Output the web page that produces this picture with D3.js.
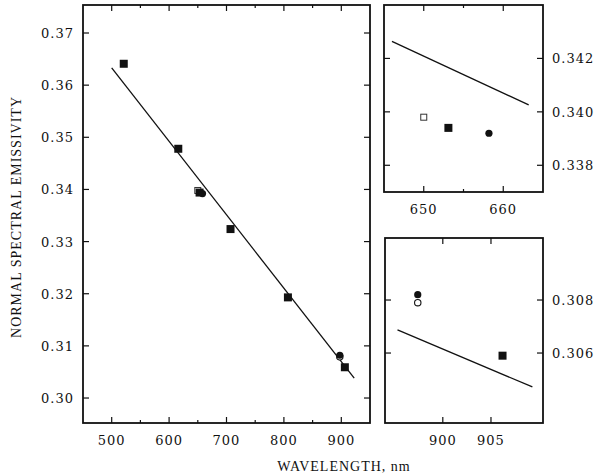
<!DOCTYPE html>
<html>
<head>
<meta charset="utf-8">
<script src="https://cdn.jsdelivr.net/npm/d3@7"></script>
<style>
    body { margin: 0; background: #fff; }
    svg { display: block; }
    .tick-label { font-family: 'DejaVu Serif', serif; font-size: 13px; letter-spacing: 1px; fill: #111; }
    .axis-title { font-family: 'Liberation Serif', serif; font-size: 14px; letter-spacing: 1px; fill: #111; }
</style>
</head>
<body>
<svg id="chart" width="596" height="476"></svg>
<script>
// values (wavelength nm, emissivity)
const filledSquares = [[521, 0.3641], [616, 0.3478], [653.1, 0.3394], [707, 0.3324], [807, 0.3193], [906.2, 0.3059]];
const filledCircles = [[658.2, 0.3392], [897.4, 0.3082]];
const openSquares = [[650, 0.3398]];
const openCircles = [[897.4, 0.3079]];

// fitted line as drawn in each panel
const fitMain = [[500, 0.3633], [922.5, 0.3038]];
const fitTop = [[646, 0.34264], [663.2, 0.34026]];
const fitBottom = [[895.3, 0.30687], [909.3, 0.30472]];

const mainXTicks = [500, 600, 700, 800, 900];
const mainXMinor = [550, 650, 750, 850];
const mainYTicks = [0.30, 0.31, 0.32, 0.33, 0.34, 0.35, 0.36, 0.37];
const topXTicks = [650, 660];
const topXMinor = [655];
const topYTicks = [0.338, 0.340, 0.342];
const botXTicks = [900, 905];
const botYTicks = [0.306, 0.308];

const svg = d3.select('#chart');

const panels = [
    {
        box: { left: 83, top: 5, right: 370, bottom: 423 },
        xDomain: [450, 950], yDomain: [0.29521, 0.37537],
        xTicks: mainXTicks, xMinor: mainXMinor, yTicks: mainYTicks,
        fit: fitMain, yLabelSide: 'left', yFormat: d3.format('.2f')
    },
    {
        box: { left: 384, top: 5, right: 543, bottom: 192 },
        xDomain: [645, 665], yDomain: [0.337, 0.344],
        xTicks: topXTicks, xMinor: topXMinor, yTicks: topYTicks,
        fit: fitTop, yLabelSide: 'right', yFormat: d3.format('.3f')
    },
    {
        box: { left: 385, top: 238, right: 543, bottom: 423 },
        xDomain: [894, 910.4], yDomain: [0.30336, 0.31034],
        xTicks: botXTicks, xMinor: [], yTicks: botYTicks,
        fit: fitBottom, yLabelSide: 'right', yFormat: d3.format('.3f')
    }
];

panels.forEach(p => drawPanel(p));

function drawPanel(p) {
    const b = p.box;
    const x = d3.scaleLinear().domain(p.xDomain).range([b.left, b.right]);
    const y = d3.scaleLinear().domain(p.yDomain).range([b.bottom, b.top]);

    const g = svg.append('g');

    // clip marks to the frame
    const clipId = 'clip' + b.left + b.top;
    g.append('clipPath').attr('id', clipId)
        .append('rect')
        .attr('x', b.left).attr('y', b.top)
        .attr('width', b.right - b.left).attr('height', b.bottom - b.top);

    // ticks, inward, on all four sides
    const major = 6, minor = 3;
    const tickG = g.append('g').attr('stroke', '#111').attr('stroke-width', 1.2);
    const xt = p.xTicks.map(v => ({ v, len: major })).concat(p.xMinor.map(v => ({ v, len: minor })));
    xt.forEach(t => {
        tickG.append('line').attr('x1', x(t.v)).attr('x2', x(t.v)).attr('y1', b.bottom).attr('y2', b.bottom - t.len);
        tickG.append('line').attr('x1', x(t.v)).attr('x2', x(t.v)).attr('y1', b.top).attr('y2', b.top + t.len);
    });
    p.yTicks.forEach(v => {
        tickG.append('line').attr('x1', b.left).attr('x2', b.left + major).attr('y1', y(v)).attr('y2', y(v));
        tickG.append('line').attr('x1', b.right).attr('x2', b.right - major).attr('y1', y(v)).attr('y2', y(v));
    });

    // frame
    g.append('rect')
        .attr('x', b.left).attr('y', b.top)
        .attr('width', b.right - b.left).attr('height', b.bottom - b.top)
        .attr('fill', 'none').attr('stroke', '#111').attr('stroke-width', 1.8);

    // tick labels
    g.selectAll('.xlab').data(p.xTicks).join('text')
        .attr('class', 'tick-label')
        .attr('x', d => x(d)).attr('y', b.bottom + 22)
        .attr('text-anchor', 'middle')
        .text(d => d);

    g.selectAll('.ylab').data(p.yTicks).join('text')
        .attr('class', 'tick-label')
        .attr('x', p.yLabelSide === 'left' ? b.left - 9 : b.right + 9)
        .attr('y', d => y(d) + 5)
        .attr('text-anchor', p.yLabelSide === 'left' ? 'end' : 'start')
        .text(d => p.yFormat(d));

    // fit line
    const marks = g.append('g').attr('clip-path', `url(#${clipId})`);
    marks.append('path')
        .datum(p.fit)
        .attr('fill', 'none').attr('stroke', '#111').attr('stroke-width', 1.3)
        .attr('d', d3.line().x(d => x(d[0])).y(d => y(d[1])));

    // data markers
    const sq = 8, osq = 6, r = 3.6;
    marks.selectAll('.osq').data(openSquares).join('rect')
        .attr('x', d => x(d[0]) - osq / 2).attr('y', d => y(d[1]) - osq / 2)
        .attr('width', osq).attr('height', osq)
        .attr('fill', '#fff').attr('stroke', '#333').attr('stroke-width', 1);
    marks.selectAll('.ocirc').data(openCircles).join('circle')
        .attr('cx', d => x(d[0])).attr('cy', d => y(d[1])).attr('r', 3.2)
        .attr('fill', '#fff').attr('stroke', '#111').attr('stroke-width', 1.1);
    marks.selectAll('.fsq').data(filledSquares).join('rect')
        .attr('x', d => x(d[0]) - sq / 2).attr('y', d => y(d[1]) - sq / 2)
        .attr('width', sq).attr('height', sq)
        .attr('fill', '#111');
    marks.selectAll('.fcirc').data(filledCircles).join('circle')
        .attr('cx', d => x(d[0])).attr('cy', d => y(d[1])).attr('r', r)
        .attr('fill', '#111');
}

// axis titles
svg.append('text')
    .attr('class', 'axis-title')
    .attr('text-anchor', 'middle')
    .attr('transform', 'translate(21, 217) rotate(-90)')
    .text('NORMAL SPECTRAL EMISSIVITY');

svg.append('text')
    .attr('class', 'axis-title')
    .attr('text-anchor', 'middle')
    .attr('x', 344).attr('y', 471)
    .text('WAVELENGTH, nm');
</script>
</body>
</html>
